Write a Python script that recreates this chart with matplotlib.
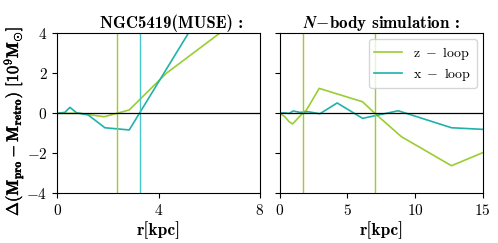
import matplotlib
matplotlib.use("Agg")
import matplotlib.pyplot as plt
import matplotlib.patheffects as pe
import numpy as np

plt.rcParams['mathtext.fontset'] = 'cm'
plt.rcParams['font.family'] = 'serif'
plt.rcParams['font.serif'] = ['cmr10']
plt.rcParams['axes.formatter.use_mathtext'] = True
plt.rcParams['font.size'] = 10

green = '#9acd32'
teal = '#20b2aa'

# NGC5419 (MUSE)
muse_r_z = [0.0, 0.9, 1.85, 2.84, 4.3, 6.4, 8.0]
muse_dm_z = [0.0, 0.0, -0.17, 0.17, 2.0, 4.0, 5.5]
muse_r_x = [0.0, 0.3, 0.5, 0.76, 1.22, 1.88, 2.84, 5.17, 6.0]
muse_dm_x = [0.0, 0.05, 0.3, 0.03, -0.08, -0.72, -0.83, 4.0, 5.7]
muse_vline_z = 2.34
muse_vline_x = 3.26

# N-body simulation
sim_r_z = [0.0, 0.37, 0.69, 0.94, 1.68, 1.97, 2.91, 6.12, 7.03, 9.0, 12.7, 15.0]
sim_dm_z = [0.0, -0.17, -0.42, -0.53, 0.0, 0.17, 1.25, 0.58, 0.0, -1.17, -2.62, -1.97]
sim_r_x = [0.0, 0.25, 0.69, 0.99, 1.48, 2.1, 2.96, 4.24, 6.12, 8.76, 12.7, 15.0]
sim_dm_x = [0.0, 0.03, 0.0, 0.12, 0.05, 0.08, -0.02, 0.52, -0.25, 0.13, -0.72, -0.8]
sim_vlines = [1.68, 7.03]

fig = plt.figure(figsize=(4.98, 2.43), dpi=100)
ax1 = fig.add_axes([0.115, 0.2045, 0.407, 0.658])
ax2 = fig.add_axes([0.562, 0.2045, 0.407, 0.658])

ax1.plot(muse_r_z, muse_dm_z, color=green, lw=1.2)
ax1.plot(muse_r_x, muse_dm_x, color=teal, lw=1.2)
ax1.axvline(muse_vline_z, color=green, lw=1.0)
ax1.axvline(muse_vline_x, color='#48c8c8', lw=1.0)
ax1.axhline(0, color='black', lw=0.9)
ax1.set_xlim(0, 8)
ax1.set_ylim(-4, 4)
ax1.set_xticks([0, 4, 8])
ax1.set_yticks([-4, -2, 0, 2, 4])
ax1.set_title('NGC5419(MUSE) :', fontsize=12, family='cmb10', pad=4, x=0.566)
ax1.set_xlabel('r[kpc]', fontsize=12.5, family='cmb10', labelpad=2)
ax1.set_ylabel(r'$\mathbf{\Delta(M_{pro}-M_{retro})\ [10^9M_{\odot}]}$', fontsize=12,
               path_effects=[pe.withStroke(linewidth=0.3, foreground='black')])
ax1.yaxis.set_label_coords(-0.16, 0.45)

ax2.plot(sim_r_z, sim_dm_z, color=green, lw=1.2, label=r'$\rm z\ -\ loop$')
ax2.plot(sim_r_x, sim_dm_x, color=teal, lw=1.2, label=r'$\rm x\ -\ loop$')
for xv in sim_vlines:
    ax2.axvline(xv, color=green, lw=1.0)
ax2.axhline(0, color='black', lw=0.9)
ax2.set_xlim(0, 15)
ax2.set_ylim(-4, 4)
ax2.set_xticks([0, 5, 10, 15])
ax2.set_yticks([-4, -2, 0, 2, 4])
ax2.set_yticklabels([])
ax2.set_title(r'$\boldsymbol{N}\mathbf{-}$body simulation :', fontsize=12.3, family='cmb10', pad=4)
ax2.set_xlabel('r[kpc]', fontsize=12.5, family='cmb10', labelpad=2)
ax2.legend(loc='upper right', fontsize=10, labelspacing=0.3, borderaxespad=0.4)

for ax in (ax1, ax2):
    ax.tick_params(labelsize=11)

fig.savefig("out.png", dpi=100)
